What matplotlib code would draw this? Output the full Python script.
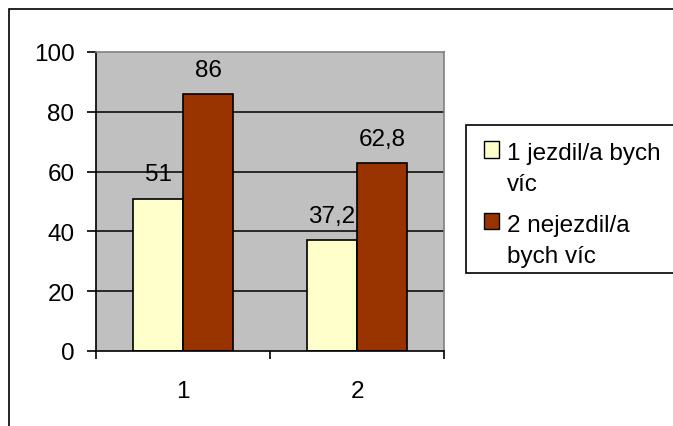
import matplotlib
matplotlib.use("Agg")
import matplotlib.pyplot as plt
from matplotlib.patches import Rectangle, Patch
from matplotlib.legend_handler import HandlerPatch

plt.rcParams['font.family'] = ['Liberation Sans', 'DejaVu Sans']

categories = ["1", "2"]
series_names = ["1 jezdil/a bych\nvíc", "2 nejezdil/a\nbych víc"]
values_yes = [51, 37.2]
values_no = [86, 62.8]
value_labels_yes = ["51", "37,2"]
value_labels_no = ["86", "62,8"]
y_ticks = [0, 20, 40, 60, 80, 100]

FS = 17.5
W, H = 673, 427
fig = plt.figure(figsize=(W / 100, H / 100), dpi=100)
fig.patch.set_facecolor("white")

# outer chart frame
fig.patches.append(Rectangle((9 / W, -0.1), 1.2, 1.1 - 10 / H,
                             transform=fig.transFigure, fill=False,
                             edgecolor="black", linewidth=1.2))

ax = fig.add_axes([96 / W, 1 - 352 / H, (444 - 96) / W, (352 - 53) / H])
ax.set_facecolor("#C0C0C0")

x = list(range(len(categories)))
bw = 50 / 174
c_yes = "#FFFFCC"
c_no = "#993300"
b1 = ax.bar([i - bw / 2 for i in x], values_yes, width=bw, color=c_yes,
            edgecolor="black", linewidth=1.2, zorder=3)
b2 = ax.bar([i + bw / 2 for i in x], values_no, width=bw, color=c_no,
            edgecolor="black", linewidth=1.2, zorder=3)

for bars, labels in ((b1, value_labels_yes), (b2, value_labels_no)):
    for rect, lab in zip(bars, labels):
        ax.annotate(lab, (rect.get_x() + rect.get_width() / 2, rect.get_height()),
                    xytext=(0, 9.5), textcoords="offset points",
                    ha="center", va="bottom", fontsize=FS, zorder=4)

ax.set_xlim(-0.5, len(categories) - 0.5)
ax.set_ylim(0, 100)
ax.set_yticks(y_ticks)
ax.set_yticklabels([str(t) for t in y_ticks])
for t in y_ticks[1:-1]:
    ax.axhline(t, color="black", linewidth=1.1, zorder=1)

ax.set_xticks(x)
ax.set_xticklabels(categories)
ax.set_xticks([i - 0.5 for i in range(len(categories) + 1)], minor=True)
ax.tick_params(axis="x", which="major", length=0, pad=21, labelsize=FS)
ax.tick_params(axis="x", which="minor", length=6, width=1.2, direction="out")
ax.tick_params(axis="y", length=6.5, width=1.2, pad=9, labelsize=FS)

for side in ("left", "bottom"):
    ax.spines[side].set_color("black")
    ax.spines[side].set_linewidth(1.2)
for side in ("top", "right"):
    ax.spines[side].set_color("#808080")
    ax.spines[side].set_linewidth(1.2)
ax.spines["bottom"].set_zorder(5)


class FirstLinePatch(HandlerPatch):
    """Square legend key placed beside the first line of a wrapped label."""
    def __init__(self, shift, **kw):
        super().__init__(**kw)
        self.shift = shift

    def create_artists(self, legend, orig_handle, xdescent, ydescent,
                       width, height, fontsize, trans):
        p = Rectangle((-xdescent, -ydescent + self.shift * fontsize), width, height)
        self.update_prop(p, orig_handle, legend)
        p.set_transform(trans)
        return [p]


# legend box (drawn as its own frame so the padding below the text stays tight)
fig.patches.append(Rectangle((466 / W, 1 - 274 / H), 0.5, (274 - 126) / H,
                             transform=fig.transFigure, facecolor="white",
                             edgecolor="black", linewidth=1.2, zorder=2))

handles = [Patch(facecolor=c_yes, edgecolor="black", linewidth=1.0),
           Patch(facecolor=c_no, edgecolor="black", linewidth=1.0)]
hm = {h: FirstLinePatch(0.80) for h in handles}
leg = fig.legend(handles, series_names, loc="upper left",
                 bbox_to_anchor=(466 / W, 0, 220 / W, 1 - 126 / H),
                 mode="expand", handler_map=hm,
                 fontsize=FS, frameon=False, borderpad=0.72,
                 handlelength=0.65, handleheight=0.65, handletextpad=0.3,
                 labelspacing=0.78, borderaxespad=0)
leg.set_zorder(3)
for t in leg.get_texts():
    t.set_linespacing(1.52)

fig.savefig("out.png", dpi=100)
